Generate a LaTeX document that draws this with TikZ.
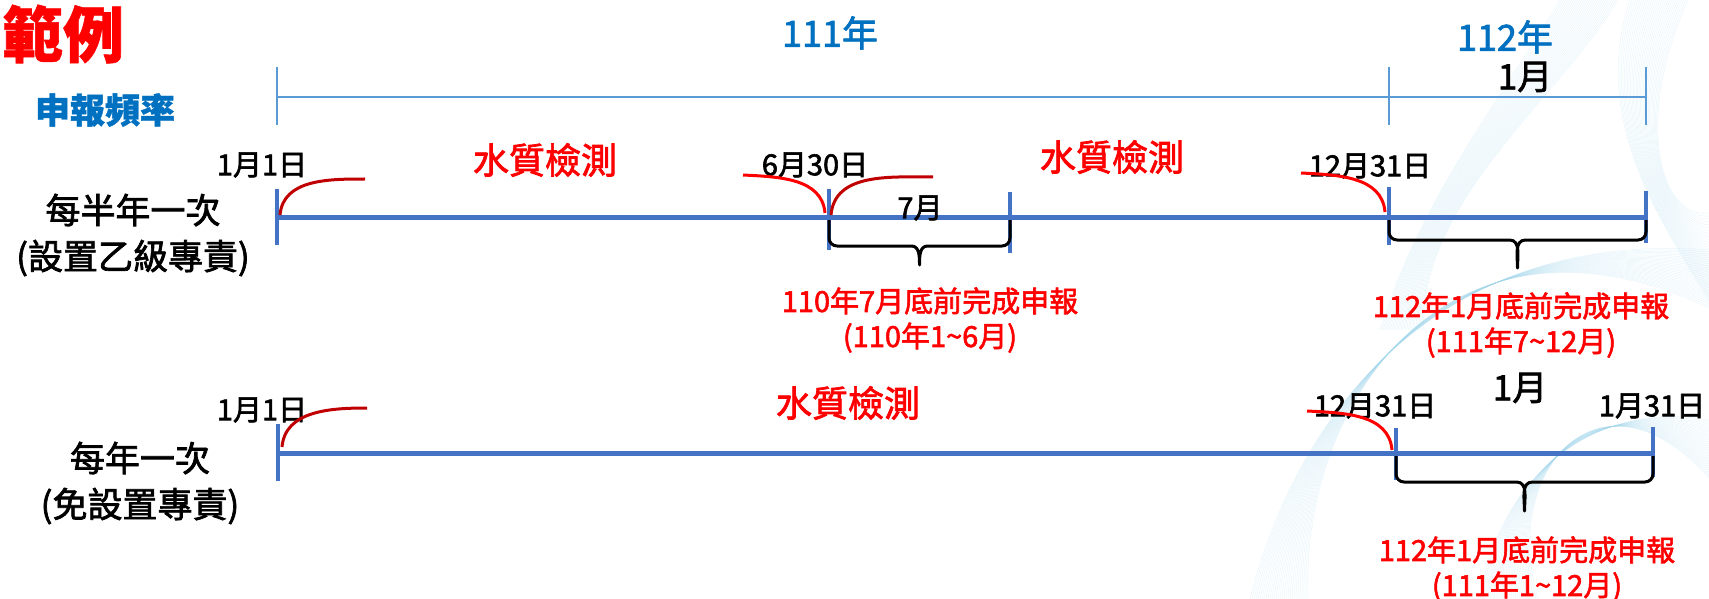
\documentclass[tikz,border=0pt]{standalone}
\usepackage{fontspec}
\setmainfont{Noto Sans CJK TC}[FakeBold=2, BoldFeatures={FakeBold=1}]
\usepackage{tikz}
\usetikzlibrary{calc}

\definecolor{yearblue}{HTML}{0070C0}
\definecolor{lineblue}{HTML}{4472C4}
\definecolor{rulerblue}{HTML}{5B9BD5}
\definecolor{arcred}{HTML}{C00000}
\definecolor{haze}{HTML}{9FD4EA}

\newcommand\monthbrace[4]{%
	\draw[bracket] ($(#1)+(0,-3)$) -- ($(#1)+(0,-#3+8)$) to[out=-90,in=180] ($(#1)+(8,-#3)$)
		-- ($(#1)!0.5!(#2)+(-8,-#3)$) to[out=0,in=90] ($(#1)!0.5!(#2)+(0,-#4)$)
		to[out=90,in=180] ($(#1)!0.5!(#2)+(8,-#3)$) -- ($(#2)+(-8,-#3)$)
		to[out=0,in=-90] ($(#2)+(0,-#3+8)$) -- ($(#2)+(0,-3)$);}

\begin{document}
\begin{tikzpicture}[x=0.5pt, y=0.5pt, every node/.style={inner sep=0pt},
		headline/.style={text=red, font=\fontsize{30.5}{30.5}\selectfont\bfseries},
		year/.style={text=yearblue, font=\fontsize{18}{18}\selectfont},
		freq/.style={align=center, font=\fontsize{17.5}{23}\selectfont},
		date/.style={font=\fontsize{14.5}{15}\selectfont},
		month/.style={font=\fontsize{17.5}{18}\selectfont},
		test/.style={text=red, font=\fontsize{18}{18}\selectfont},
		note/.style={text=red, align=center, font=\fontsize{14.5}{17.5}\selectfont},
		swirl/.style={draw=haze, line width=0.25pt, opacity=0.22},
		ruler/.style={draw=rulerblue, line width=0.75pt},
		period/.style={draw=lineblue, line width=2.5pt},
		tickmark/.style={draw=lineblue, line width=2pt},
		opening/.style={draw=arcred, line width=1.5pt},
		closing/.style={draw=red, line width=1.5pt},
		bracket/.style={draw=black, line width=1.5pt, line join=round}]
	\useasboundingbox (0,0) rectangle (1709,-599);

	\foreach \k in {0,...,29} {
		\draw[swirl] (1630+2*\k,0) .. controls (1590+1.5*\k,-120) and (1660,-220) .. (1709,-300+3*\k);
		\draw[swirl] (1380+1.5*\k,-330) .. controls (1420,-200) and (1500+2*\k,-100) .. (1560+2*\k,0);
		\draw[swirl] (1250+2*\k,-599) .. controls (1300,-400) and (1450,-230+1.5*\k) .. (1709,-250-2*\k);
		\draw[swirl] (1480+2*\k,-599) .. controls (1500,-470) and (1600,-400+1.5*\k) .. (1709,-420-2*\k);
	}

	\node[headline] (example) at (63,-34) {範例};
	\node[year] (y111) at (830,-33) {111年};
	\node[year] (y112) at (1505,-37) {112年};
	\node[month] (jan) at (1525,-77) {1月};
	\node[year, font=\fontsize{17.5}{18}\selectfont\bfseries] (freq) at (105,-110) {申報頻率};

	\coordinate (r0) at (277,-97);
	\coordinate (r1) at (1389,-97);
	\coordinate (r2) at (1646,-97);
	\draw[ruler] (r0) -- (r2);
	\foreach \t in {r0,r1,r2}
		\draw[ruler] ($(\t)+(0,30)$) -- ($(\t)+(0,-28)$);

	\coordinate (a0) at (277,-217);
	\coordinate (a1) at (829,-217);
	\coordinate (a2) at (1010,-217);
	\coordinate (a3) at (1389,-217);
	\coordinate (a4) at (1646,-217);
	\draw[period] (a0) -- (a4);
	\foreach \t/\u/\d in {a0/28/28, a1/28/33, a2/25/36, a3/30/28, a4/26/26}
		\draw[tickmark] ($(\t)+(0,\u)$) -- ($(\t)+(0,-\d)$);

	\node[freq] (half) at (133,-235) {每半年一次\\(設置乙級專責)};
	\node[date] (jan1a) at (262,-165) {1月1日};
	\node[date] (jun30) at (815,-165) {6月30日};
	\node[date] (dec31a) at (1370,-166) {12月31日};
	\node[test] (test1) at (545,-160) {水質檢測};
	\node[test] (test2) at (1112,-157) {水質檢測};
	\node[date] (jul) at (920,-208) {7月};

	\draw[opening] ($(a0)+(3,2)$) to[out=85,in=180] ($(a0)+(88,38)$);
	\draw[closing] ($(a1)+(-86,42)$) to[out=-3,in=95] ($(a1)+(-4,4)$);
	\draw[opening] ($(a1)+(2,2)$) to[out=85,in=180] ($(a1)+(104,40)$);
	\draw[closing] ($(a3)+(-88,44)$) to[out=-3,in=95] ($(a3)+(-4,5)$);

	\monthbrace{a1}{a2}{29}{48}
	\monthbrace{a3}{a4}{23}{51}
	\node[note] (rep1) at (930,-320) {110年7月底前完成申報\\(110年1\textasciitilde6月)};
	\node[note] (rep2) at (1521,-325) {112年1月底前完成申報\\(111年7\textasciitilde12月)};

	\coordinate (b0) at (278,-453);
	\coordinate (b1) at (1396,-453);
	\coordinate (b2) at (1653,-453);
	\draw[period] (b0) -- (b2);
	\foreach \t/\u/\d in {b0/29/28, b1/25/27, b2/26/24}
		\draw[tickmark] ($(\t)+(0,\u)$) -- ($(\t)+(0,-\d)$);

	\node[freq] (yearly) at (140,-483) {每年一次\\(免設置專責)};
	\node[date] (jan1b) at (262,-410) {1月1日};
	\node[test] (test3) at (848,-403) {水質檢測};
	\node[date] (dec31b) at (1375,-406) {12月31日};
	\node[month] (jan2) at (1520,-388) {1月};
	\node[date] (jan31) at (1652,-406) {1月31日};

	\draw[opening] ($(b0)+(4,6)$) to[out=85,in=180] ($(b0)+(89,45)$);
	\draw[closing] ($(b1)+(-89,42)$) to[out=-3,in=95] ($(b1)+(-4,3)$);

	\monthbrace{b1}{b2}{29}{58}
	\node[note] (rep3) at (1527,-569) {112年1月底前完成申報\\(111年1\textasciitilde12月)};
\end{tikzpicture}
\end{document}
